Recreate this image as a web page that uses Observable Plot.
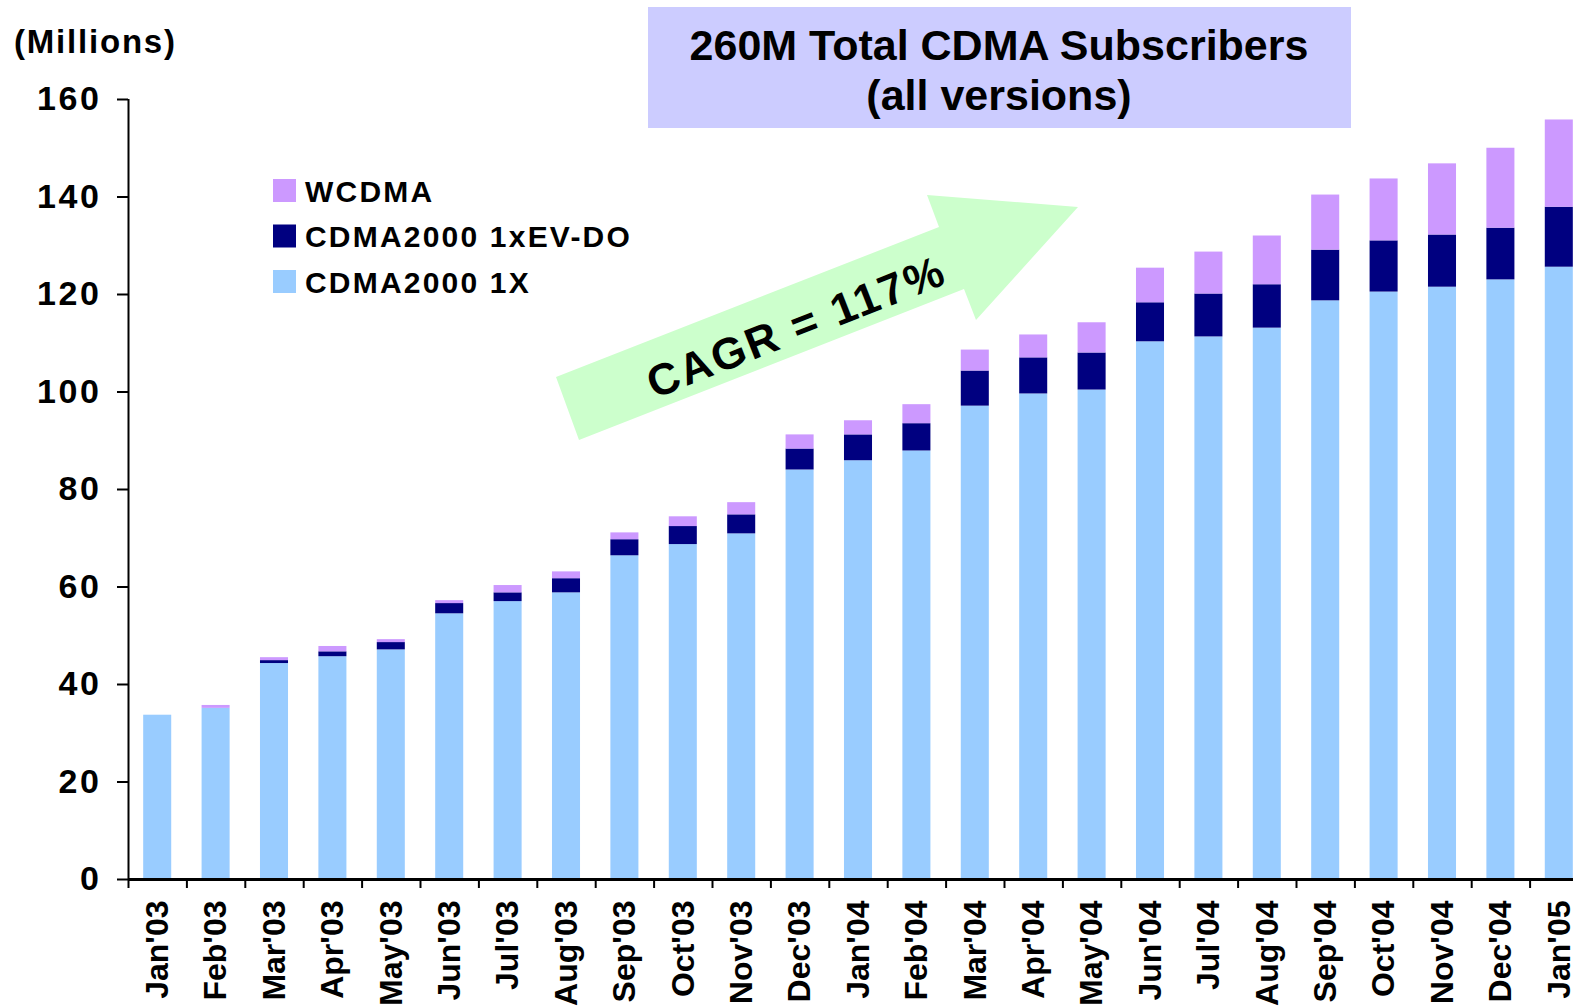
<!DOCTYPE html>
<html>
<head>
<meta charset="utf-8">
<script src="https://cdn.jsdelivr.net/npm/d3@7"></script>
<script src="https://cdn.jsdelivr.net/npm/@observablehq/plot@0.6"></script>
<style>
  html, body { margin: 0; padding: 0; background: white; overflow: hidden; }
  #chart { position: relative; width: 1573px; height: 1007px; overflow: hidden; }
  #chart svg { max-width: none !important; width: 1588px; height: 1007px; display: block; }
</style>
</head>
<body>
<div id="chart"></div>
<script>
// ---- Data (millions of subscribers) ----
const months = ["Jan'03","Feb'03","Mar'03","Apr'03","May'03","Jun'03","Jul'03","Aug'03","Sep'03","Oct'03","Nov'03","Dec'03",
                "Jan'04","Feb'04","Mar'04","Apr'04","May'04","Jun'04","Jul'04","Aug'04","Sep'04","Oct'04","Nov'04","Dec'04","Jan'05"];
const cdma1x = [33.7, 35.1, 44.3, 45.7, 47.1, 54.5, 57.0, 58.8, 66.4, 68.7, 70.9, 84.0,
                85.9, 87.9, 97.1, 99.6, 100.4, 110.3, 111.3, 113.1, 118.7, 120.5, 121.5, 123.0, 125.6];
const evdo   = [0, 0, 0.6, 1.0, 1.5, 2.1, 1.8, 2.9, 3.3, 3.7, 3.9, 4.3,
                5.3, 5.6, 7.2, 7.4, 7.6, 8.0, 8.8, 8.9, 10.4, 10.5, 10.7, 10.6, 12.3];
const wcdma  = [0, 0.6, 0.6, 1.1, 0.6, 0.6, 1.5, 1.4, 1.4, 2.0, 2.5, 2.9,
                2.9, 3.9, 4.3, 4.7, 6.2, 7.1, 8.6, 10.0, 11.3, 12.7, 14.6, 16.4, 17.9];
const seriesNames = ["CDMA2000 1X", "CDMA2000 1xEV-DO", "WCDMA"];
const seriesColors = ["#99CCFF", "#000080", "#CC99FF"];
const legendOrder = ["WCDMA", "CDMA2000 1xEV-DO", "CDMA2000 1X"];
const yTicks = [0, 20, 40, 60, 80, 100, 120, 140, 160];
const titleLines = ["260M Total CDMA Subscribers", "(all versions)"];
const unitLabel = "(Millions)";
const cagrLabel = "CAGR = 117%";

// ---- Table for the library ----
const seriesValues = [cdma1x, evdo, wcdma];
const rows = [];
seriesNames.forEach((s, si) => months.forEach((m, mi) => rows.push({month: m, series: s, value: seriesValues[si][mi]})));

// ---- Layout ----
const W = 1588, H = 1007;   // plot runs slightly past the 1573px page edge, as in the original
const mLeft = 128, mRight = 0, mTop = 99, mBottom = 128;
const step = (W - mRight - mLeft) / months.length;
const font = "'Liberation Sans', Arial, Helvetica, sans-serif";

const svg = Plot.plot({
  width: W,
  height: H,
  marginLeft: mLeft,
  marginRight: mRight,
  marginTop: mTop,
  marginBottom: mBottom,
  style: {background: "white", fontFamily: font, fontWeight: "bold", color: "black", maxWidth: "none"},
  x: {domain: months, paddingInner: 0.52, paddingOuter: 0.26, round: false},
  y: {domain: [0, 160]},
  color: {domain: seriesNames, range: seriesColors},
  marks: [
    Plot.barY(rows, {x: "month", y: "value", fill: "series"}),
    Plot.ruleY([0], {stroke: "black", strokeWidth: 3}),
    Plot.ruleX([months[0]], {y1: 0, y2: 160, dx: -step / 2, stroke: "black", strokeWidth: 2}),
    Plot.ruleX(months, {y1: 0, y2: 0, insetBottom: -9, dx: -step / 2, stroke: "black", strokeWidth: 2}),
    Plot.axisY({ticks: yTicks, tickSize: 11, tickPadding: 16, tickFormat: d => String(d), fontSize: 34, strokeWidth: 2, label: null}),
    Plot.axisX({tickSize: 0, tickPadding: 21, tickRotate: -90, fontSize: 32, label: null})
  ]
});
svg.style.maxWidth = "none";

const root = d3.select(svg);
root.selectAll("g[aria-label='y-axis tick label'] text").style("letter-spacing", "2.6px");

// Annotations layer
const ann = root.append("g").attr("font-family", font).attr("font-weight", "bold").attr("fill", "black");

// Arrow
const arrowPts = [[556,377],[939,227],[927,195],[1078,207],[976,320],[964,289],[579,440]];
ann.append("polygon").attr("points", arrowPts.map(p => p.join(",")).join(" ")).attr("fill", "#CCFFCC");
ann.append("text").text(cagrLabel)
  .attr("transform", "translate(796,326) rotate(-21.5)")
  .attr("text-anchor", "middle").attr("dy", "0.36em")
  .attr("font-size", 44).style("letter-spacing", "2.5px");

// Title box
ann.append("rect").attr("x", 648).attr("y", 7).attr("width", 703).attr("height", 121).attr("fill", "#CCCCFF");
ann.append("text").text(titleLines[0]).attr("x", 999).attr("y", 60).attr("text-anchor", "middle").attr("font-size", 43);
ann.append("text").text(titleLines[1]).attr("x", 999).attr("y", 110).attr("text-anchor", "middle").attr("font-size", 43);

// Unit label
ann.append("text").text(unitLabel).attr("x", 14).attr("y", 53).attr("text-anchor", "start")
  .attr("font-size", 33).style("letter-spacing", "1.8px");

// Legend
const colorOf = Object.fromEntries(seriesNames.map((s, i) => [s, seriesColors[i]]));
legendOrder.forEach((s, i) => {
  const y0 = 179 + i * 45.5;
  ann.append("rect").attr("x", 273).attr("y", y0).attr("width", 23).attr("height", 23).attr("fill", colorOf[s]);
  ann.append("text").text(s).attr("x", 305).attr("y", y0 + 22.5).attr("text-anchor", "start")
    .attr("font-size", 30).style("letter-spacing", "2.2px");
});

// Move the arrow under the bars
const arrowNode = ann.select("polygon").node();
svg.insertBefore(arrowNode, svg.querySelector("g[aria-label='bar']"));

document.getElementById("chart").appendChild(svg);
</script>
</body>
</html>
